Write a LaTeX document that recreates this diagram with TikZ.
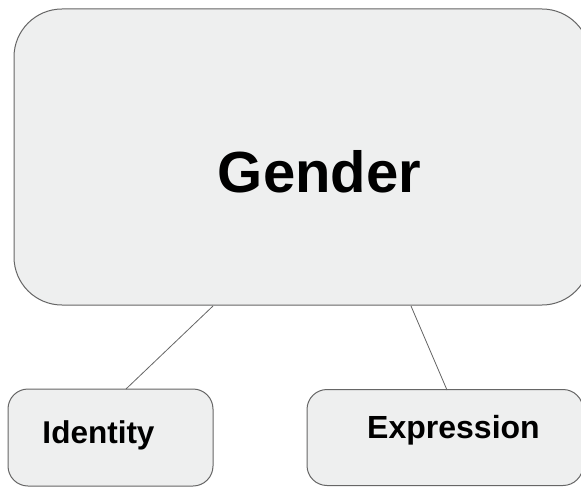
\documentclass[tikz,border=0pt]{standalone}
\usepackage{fontspec}
\setmainfont{Liberation Sans}
\definecolor{boxfill}{HTML}{EEEFEF}
\definecolor{boxline}{HTML}{666666}
\begin{document}
\begin{tikzpicture}[x=1pt,y=-1pt,
  box/.style={draw=boxline,fill=boxfill,line width=1pt,inner sep=0pt},
  lbl/.style={font=\bfseries,inner sep=0pt,anchor=base},
  conn/.style={draw=boxline,line width=0.8pt}]
\useasboundingbox (0,0) rectangle (581,487);
\begin{scope}
\clip (0,0) rectangle (581,487);
\node[box,rounded corners=48pt,minimum width=576pt,minimum height=296pt] (gbox) at (302,157) {};
\node[box,rounded corners=20pt,minimum width=205pt,minimum height=97pt] (ibox) at (110.5,437.5) {};
\node[box,rounded corners=20pt,minimum width=276pt,minimum height=96pt] (ebox) at (445,437.5) {};
\end{scope}
\node[lbl,font=\fontsize{58}{60}\selectfont\bfseries] (gender) at (319.5,192) {Gender};
\node[lbl,font=\fontsize{31.5}{34}\selectfont\bfseries] (identity) at (98.5,443) {Identity};
\node[lbl,font=\fontsize{32}{34}\selectfont\bfseries] (expression) at (453.5,438) {Expression};
\coordinate (g1) at (213,306);
\coordinate (g2) at (411,306);
\coordinate (i1) at (126,389);
\coordinate (e1) at (447,390);
\draw[conn] (g1) -- (i1);
\draw[conn] (g2) -- (e1);
\end{tikzpicture}
\end{document}
